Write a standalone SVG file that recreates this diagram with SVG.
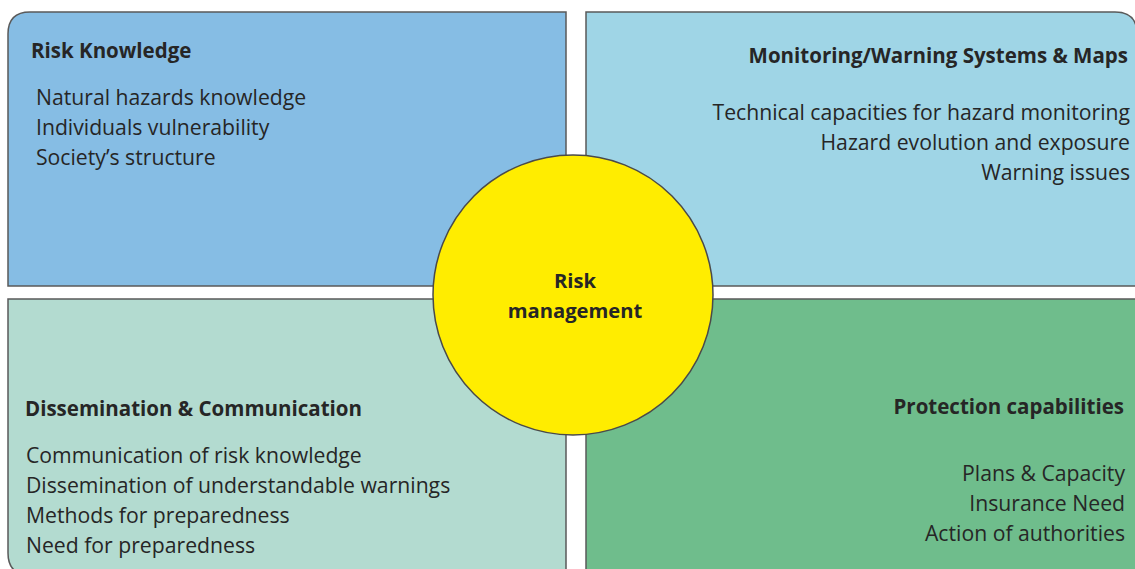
<svg xmlns="http://www.w3.org/2000/svg" width="1135" height="569" viewBox="0 0 1135 569">
  <style>
    .panel { stroke: #5a5a5a; stroke-width: 1.5; }
    .title { font-family: "Open Sans", "Noto Sans", sans-serif; font-weight: bold; font-size: 20.5px; fill: #262626; }
    .item { font-family: "Open Sans", "Noto Sans", sans-serif; font-size: 21.2px; fill: #262626; }
    .center { font-family: "Open Sans", "Noto Sans", sans-serif; font-weight: bold; font-size: 20.2px; fill: #262626; text-anchor: middle; }
    .end { text-anchor: end; }
  </style>
  <rect width="1135" height="569" fill="#ffffff"/>

  <g id="risk-knowledge">
    <path class="panel" fill="#86bde4" d="M8 286 V34 Q8 12 30 12 H566 V286 Z"/>
    <text class="title" x="31" y="58">Risk Knowledge</text>
    <text class="item" x="36" y="105">Natural hazards knowledge</text>
    <text class="item" x="36" y="135">Individuals vulnerability</text>
    <text class="item" x="36" y="165">Society’s structure</text>
  </g>

  <g id="monitoring">
    <path class="panel" fill="#9fd5e6" d="M586 286 V12 H1115 Q1137 12 1137 34 V286 Z"/>
    <text class="title end" x="1128" y="63">Monitoring/Warning Systems &amp; Maps</text>
    <text class="item end" x="1130" y="120">Technical capacities for hazard monitoring</text>
    <text class="item end" x="1130" y="150">Hazard evolution and exposure</text>
    <text class="item end" x="1130" y="180">Warning issues</text>
  </g>

  <g id="dissemination">
    <path class="panel" fill="#b3dbd0" d="M8 299 H566 V575 H30 Q8 575 8 553 Z"/>
    <text class="title" x="25" y="416">Dissemination &amp; Communication</text>
    <text class="item" x="26" y="463">Communication of risk knowledge</text>
    <text class="item" x="26" y="493">Dissemination of understandable warnings</text>
    <text class="item" x="26" y="523">Methods for preparedness</text>
    <text class="item" x="26" y="553">Need for preparedness</text>
  </g>

  <g id="protection">
    <path class="panel" fill="#6fbd8c" d="M586 299 H1140 V575 H586 Z"/>
    <text class="title end" x="1124" y="414">Protection capabilities</text>
    <text class="item end" x="1125" y="481">Plans &amp; Capacity</text>
    <text class="item end" x="1125" y="511">Insurance Need</text>
    <text class="item end" x="1125" y="541">Action of authorities</text>
  </g>

  <g id="risk-management">
    <circle cx="573" cy="295" r="140" fill="#ffed00" stroke="#4a4a4a" stroke-width="1.5"/>
    <text class="center" x="575" y="288">Risk</text>
    <text class="center" x="575" y="318">management</text>
  </g>

  <g id="connectors"></g>
</svg>
